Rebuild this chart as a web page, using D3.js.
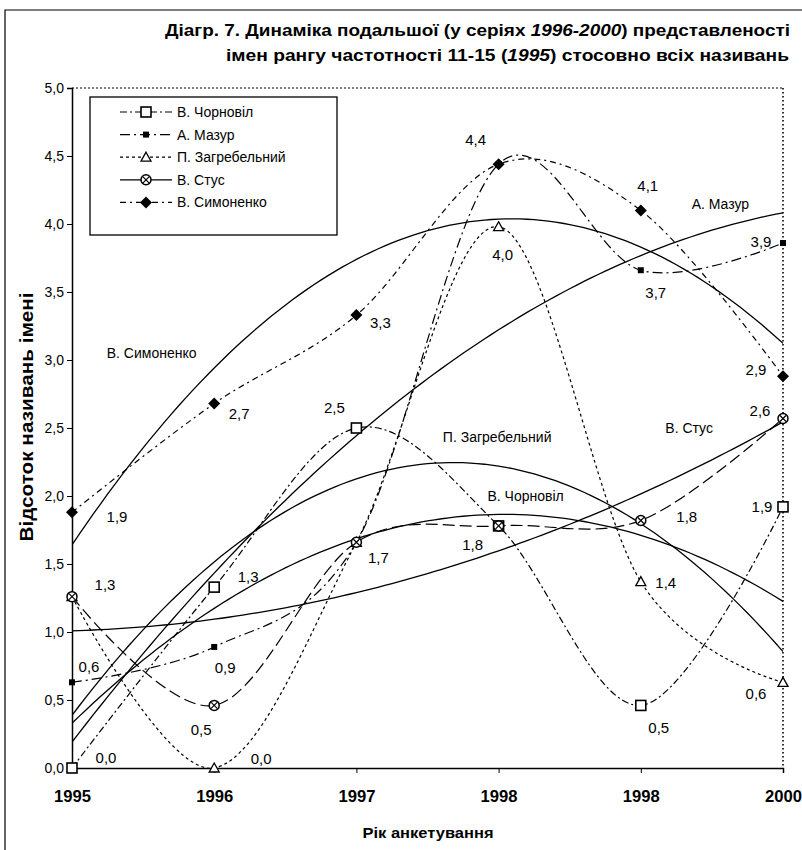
<!DOCTYPE html>
<html>
<head>
<meta charset="utf-8">
<script src="https://cdn.jsdelivr.net/npm/d3@7"></script>
<style>
  body { margin: 0; background: #fff; }
  svg { display: block; font-family: "Liberation Sans", Arial, sans-serif; }
</style>
</head>
<body>
<svg id="chart" width="802" height="850"></svg>
<script>
/* Data */
const YEARS = [1995, 1996, 1997, 1998, 1999, 2000];
const YEAR_LABELS = ["1995", "1996", "1997", "1998", "1998", "2000"];
const Y_TICKS = [0, 0.5, 1, 1.5, 2, 2.5, 3, 3.5, 4, 4.5, 5];

const NAMES = ["В. Чорновіл", "А. Мазур", "П. Загребельний", "В. Стус", "В. Симоненко"];
const CHORNOVIL = [0.0, 1.33, 2.5, 1.78, 0.46, 1.92];
const MAZUR = [0.63, 0.89, 1.66, 4.44, 3.66, 3.86];
const ZAGREBELNYI = [1.26, 0.0, 1.66, 3.98, 1.37, 0.63];
const STUS = [1.26, 0.46, 1.66, 1.78, 1.82, 2.57];
const SYMONENKO = [1.88, 2.68, 3.33, 4.44, 4.1, 2.88];

/* Layout only: which points carry a value label, and its offset from the marker */
const VALUE_LABELS = [
  [0, 0, 34, -10], [0, 1, 34, -10], [0, 2, -22, -20], [0, 3, -26, 19], [0, 4, 18, 22], [0, 5, -21, 0],
  [1, 0, 17, -16], [1, 1, 11, 21], [1, 2, 22, 16], [1, 4, 15, 23], [1, 5, -22, -1],
  [2, 1, 47, -9], [2, 3, 4, 28], [2, 4, 25, 1], [2, 5, -27, 11],
  [3, 0, 33, -12], [3, 1, -13, 24], [3, 4, 46, -4], [3, 5, -23, -8],
  [4, 0, 45, 4], [4, 1, 25, 10], [4, 2, 24, 8], [4, 3, -23, -24], [4, 4, 7, -25], [4, 5, -27, -7]
];
/* trendline name labels, in (year index, value) coordinates */
const TREND_LABEL_AT = [[3.19, 2.0], [4.56, 4.15], [2.99, 2.43], [4.34, 2.5], [0.56, 3.05]];

(function() {
  const svg = d3.select("#chart");
  const W = 802, H = 850;
  const plot = { left: 72, right: 783, top: 88, bottom: 768 };

  const seriesValues = [CHORNOVIL, MAZUR, ZAGREBELNYI, STUS, SYMONENKO];
  const dashes = ["7,3,2,3", "10,4,2,4", "3,3", "12,5", "6,4,2,4"];
  const legendDashes = ["7,3,2,3", "10,4,2,4", "3,3", null, "6,4,2,4"];

  const x = d3.scaleLinear().domain([0, YEARS.length - 1]).range([plot.left, plot.right]);
  const y = d3.scaleLinear().domain([0, 5]).range([plot.bottom, plot.top]);
  const fmt = v => d3.format(".1f")(v).replace(".", ",");

  svg.append("rect").attr("width", W).attr("height", H).attr("fill", "#fff");

  // page frame (scan edge)
  svg.append("path")
    .attr("d", "M5,850V10H802")
    .attr("fill", "none").attr("stroke", "#000").attr("stroke-width", 1.2);

  // title
  const title = svg.append("g")
    .attr("font-weight", "bold").attr("font-size", 17).attr("text-anchor", "end");
  const t1 = title.append("text").attr("x", 790).attr("y", 36)
    .attr("textLength", 625).attr("lengthAdjust", "spacingAndGlyphs");
  t1.append("tspan").text("Діагр. 7. Динаміка подальшої (у серіях ");
  t1.append("tspan").attr("font-style", "italic").text("1996-2000");
  t1.append("tspan").text(") представленості");
  const t2 = title.append("text").attr("x", 789).attr("y", 61)
    .attr("textLength", 563).attr("lengthAdjust", "spacingAndGlyphs");
  t2.append("tspan").text("імен рангу частотності 11-15 (");
  t2.append("tspan").attr("font-style", "italic").text("1995");
  t2.append("tspan").text(") стосовно всіх називань");

  // plot frame: dotted top/right, solid axes
  svg.append("line")
    .attr("x1", plot.left).attr("x2", plot.right).attr("y1", plot.top).attr("y2", plot.top)
    .attr("stroke", "#000").attr("stroke-width", 1).attr("stroke-dasharray", "2,2");
  svg.append("line")
    .attr("x1", plot.right).attr("x2", plot.right).attr("y1", plot.top).attr("y2", plot.bottom)
    .attr("stroke", "#000").attr("stroke-width", 1.6).attr("stroke-dasharray", "1.5,2.5");

  const yAxis = svg.append("g")
    .attr("transform", `translate(${plot.left},0)`)
    .call(d3.axisLeft(y).tickValues(Y_TICKS).tickSize(5).tickPadding(3).tickFormat(fmt));
  yAxis.select(".domain").attr("stroke-width", 1.5);
  yAxis.selectAll("text").attr("font-size", 14).attr("font-family", null);

  const xAxis = svg.append("g")
    .attr("transform", `translate(0,${plot.bottom})`)
    .call(d3.axisBottom(x).tickValues(d3.range(YEARS.length)).tickSize(5).tickPadding(18)
      .tickFormat(i => YEAR_LABELS[i]));
  xAxis.select(".domain").attr("stroke-width", 1.5);
  xAxis.selectAll("text")
    .attr("font-size", 16).attr("font-weight", "bold").attr("font-family", null)
    .attr("textLength", 37).attr("lengthAdjust", "spacingAndGlyphs");

  // axis titles
  svg.append("text")
    .attr("x", 428).attr("y", 838).attr("text-anchor", "middle")
    .attr("font-size", 15).attr("font-weight", "bold")
    .attr("textLength", 131).attr("lengthAdjust", "spacingAndGlyphs")
    .text("Рік анкетування");
  svg.append("text")
    .attr("transform", "translate(33,417) rotate(-90)")
    .attr("text-anchor", "middle")
    .attr("font-size", 18).attr("font-weight", "bold")
    .attr("textLength", 249).attr("lengthAdjust", "spacingAndGlyphs")
    .text("Відсоток називань імені");

  svg.append("clipPath").attr("id", "plot-clip")
    .append("rect")
    .attr("x", plot.left).attr("y", plot.top)
    .attr("width", plot.right - plot.left).attr("height", plot.bottom - plot.top);

  /** Least squares quadratic fit, as the chart's polynomial trendlines. */
  function fitQuad(vals) {
    const s = [0, 0, 0, 0, 0], r = [0, 0, 0];
    vals.forEach((v, i) => {
      for (let k = 0; k < 5; k++) s[k] += Math.pow(i, k);
      for (let k = 0; k < 3; k++) r[k] += v * Math.pow(i, k);
    });
    const m = [[s[0], s[1], s[2], r[0]], [s[1], s[2], s[3], r[1]], [s[2], s[3], s[4], r[2]]];
    for (let c = 0; c < 3; c++) {
      for (let rr = c + 1; rr < 3; rr++) {
        const f = m[rr][c] / m[c][c];
        for (let k = c; k < 4; k++) m[rr][k] -= f * m[c][k];
      }
    }
    const coef = [0, 0, 0];
    for (let c = 2; c >= 0; c--) {
      let sum = m[c][3];
      for (let k = c + 1; k < 3; k++) sum -= m[c][k] * coef[k];
      coef[c] = sum / m[c][c];
    }
    return t => coef[0] + coef[1] * t + coef[2] * t * t;
  }

  const plotG = svg.append("g").attr("clip-path", "url(#plot-clip)");

  // trendlines
  const trendLine = d3.line().x(d => x(d[0])).y(d => y(d[1]));
  seriesValues.forEach(vals => {
    const f = fitQuad(vals);
    const pts = d3.range(0, 5.001, 0.05).map(t => [t, f(t)]);
    plotG.append("path")
      .attr("d", trendLine(pts))
      .attr("fill", "none").attr("stroke", "#000").attr("stroke-width", 1.3);
  });

  // smoothed series lines
  const seriesLine = d3.line()
    .x((d, i) => x(i)).y(d => y(d))
    .curve(d3.curveCardinal.tension(0));
  seriesValues.forEach((vals, s) => {
    plotG.append("path")
      .attr("d", seriesLine(vals))
      .attr("fill", "none").attr("stroke", "#000").attr("stroke-width", 1.2)
      .attr("stroke-dasharray", dashes[s]);
  });

  /** Draw the marker of series s centred at (cx, cy). */
  function marker(g, s, cx, cy) {
    const m = g.append("g").attr("transform", `translate(${cx},${cy})`);
    if (s === 0) {
      m.append("rect").attr("x", -5).attr("y", -5).attr("width", 10).attr("height", 10)
        .attr("fill", "#fff").attr("stroke", "#000").attr("stroke-width", 1.6);
    } else if (s === 1) {
      m.append("rect").attr("x", -3).attr("y", -3).attr("width", 6).attr("height", 6)
        .attr("fill", "#000");
    } else if (s === 2) {
      m.append("path").attr("d", "M0,-5L5,4H-5Z")
        .attr("fill", "#fff").attr("stroke", "#000").attr("stroke-width", 1.3);
    } else if (s === 3) {
      m.append("circle").attr("r", 5)
        .attr("fill", "#fff").attr("stroke", "#000").attr("stroke-width", 1.5);
      m.append("path").attr("d", "M-3,-3L3,3M3,-3L-3,3")
        .attr("stroke", "#000").attr("stroke-width", 1.2);
    } else {
      m.append("path").attr("d", "M0,-6L6,0L0,6L-6,0Z").attr("fill", "#000");
    }
  }

  const markG = svg.append("g");
  seriesValues.forEach((vals, s) => {
    vals.forEach((v, i) => marker(markG, s, x(i), y(v)));
  });

  // value labels
  svg.append("g")
    .attr("font-size", 15).attr("text-anchor", "middle")
    .selectAll("text")
    .data(VALUE_LABELS)
    .join("text")
    .attr("x", d => x(d[1]) + d[2])
    .attr("y", d => y(seriesValues[d[0]][d[1]]) + d[3])
    .attr("dy", "0.35em")
    .text(d => fmt(seriesValues[d[0]][d[1]]));

  // trendline names
  svg.append("g")
    .attr("font-size", 14).attr("text-anchor", "middle")
    .selectAll("text")
    .data(TREND_LABEL_AT)
    .join("text")
    .attr("x", d => x(d[0]))
    .attr("y", d => y(d[1]))
    .attr("dy", "0.35em")
    .text((d, i) => NAMES[i]);

  // legend
  const legend = svg.append("g");
  legend.append("rect")
    .attr("x", 90).attr("y", 97).attr("width", 247).attr("height", 138)
    .attr("fill", "#fff").attr("stroke", "#000").attr("stroke-width", 1.3);
  NAMES.forEach((name, s) => {
    const ly = 112 + s * 22.6;
    legend.append("line")
      .attr("x1", 120).attr("x2", 172).attr("y1", ly).attr("y2", ly)
      .attr("stroke", "#000").attr("stroke-width", 1.2)
      .attr("stroke-dasharray", legendDashes[s]);
    marker(legend, s, 146, ly);
    legend.append("text")
      .attr("x", 177).attr("y", ly).attr("dy", "0.35em")
      .attr("font-size", 14)
      .text(name);
  });
})();
</script>
</body>
</html>
